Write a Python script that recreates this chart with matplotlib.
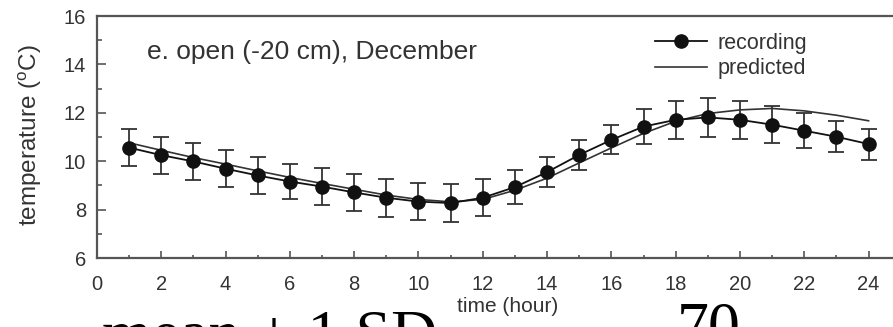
import numpy as np
import matplotlib
matplotlib.use("Agg")
from matplotlib import pyplot as plt
from matplotlib.lines import Line2D

plt.rcParams['font.family'] = ['Liberation Sans', 'DejaVu Sans']
plt.rcParams['mathtext.fontset'] = 'custom'
plt.rcParams['mathtext.rm'] = 'Liberation Sans'

# data
hours = [1, 2, 3, 4, 5, 6, 7, 8, 9, 10, 11, 12,
         13, 14, 15, 16, 17, 18, 19, 20, 21, 22, 23, 24]
recording = [10.56, 10.25, 9.99, 9.69, 9.41, 9.16, 8.95, 8.71, 8.49, 8.33, 8.27, 8.49,
             8.93, 9.55, 10.26, 10.88, 11.43, 11.71, 11.81, 11.71, 11.51, 11.26, 11.01, 10.71]
sd = [0.77, 0.77, 0.77, 0.76, 0.78, 0.73, 0.75, 0.76, 0.78, 0.78, 0.78, 0.77,
      0.69, 0.63, 0.61, 0.60, 0.72, 0.79, 0.79, 0.79, 0.76, 0.73, 0.65, 0.64]
predicted = [10.76, 10.45, 10.15, 9.88, 9.6, 9.33, 9.08, 8.84, 8.6, 8.42, 8.32, 8.42,
             8.8, 9.3, 9.93, 10.55, 11.15, 11.65, 11.97, 12.12, 12.18, 12.08, 11.9, 11.67]

fg = '#333333'

fig = plt.figure(figsize=(8.93, 3.27), dpi=100)
ax = fig.add_axes([97/893, 69/327, 796/893, 242/327])

ax.errorbar(hours, recording, yerr=sd, fmt='o-', color='#111111', ecolor='#333333',
            ms=9.5, lw=1.3, elinewidth=1.3, capsize=6, capthick=1.3)
ax.plot(hours, predicted, '-', color='#333333', lw=1.2)

ax.set_xlim(0, 24.76)
ax.set_ylim(6, 16)
ax.set_xticks(np.arange(0, 25, 2))
ax.set_xticks(np.arange(1, 25, 2), minor=True)
ax.set_yticks(np.arange(6, 17, 2))
ax.set_yticks(np.arange(7, 16, 2), minor=True)

for side in ['left', 'bottom', 'top']:
    ax.spines[side].set_color('#555555')
    ax.spines[side].set_linewidth(1.6)
ax.spines['right'].set_visible(False)

ax.tick_params(axis='x', which='major', direction='in', length=5, width=1.2,
               pad=12, labelsize=14.5, colors='#555555', labelcolor=fg)
ax.tick_params(axis='x', which='minor', direction='in', length=2.5, width=1.2, colors='#555555')
ax.tick_params(axis='y', which='major', direction='in', length=6.5, width=1.2,
               pad=8, labelsize=14.5, colors='#555555', labelcolor=fg)
ax.tick_params(axis='y', which='minor', direction='in', length=3.5, width=1.2, colors='#555555')

fig.text(147/893, 1 - 52/327, 'e. open (-20 cm), December', fontsize=19,
         color=fg, va='center', ha='left')

fig.text(30/893, 1 - 135/327, r'temperature ($^{\mathrm{o}}$C)', rotation=90,
         ha='center', va='center', fontsize=17.5, color=fg)
fig.text(508/893, 1 - 307/327, 'time (hour)', ha='center', va='center',
         fontsize=15, color=fg)

handles = [Line2D([], [], color='#111111', lw=1.3, marker='o', ms=9.5),
           Line2D([], [], color='#333333', lw=1.2)]
leg = ax.legend(handles, ['recording', 'predicted'], loc='upper left',
                bbox_to_anchor=(655/893, 1 - 33/327),
                bbox_transform=fig.transFigure, frameon=False, fontsize=15.5,
                handlelength=2.4, handletextpad=0.5, labelspacing=0.2,
                borderpad=0, borderaxespad=0)
for t in leg.get_texts():
    t.set_color(fg)

# page text cut off at the bottom of the crop
fig.text(102/893, (327 - 353)/327, 'mean \u00b1 1 SD', fontsize=46,
         family='Liberation Serif', va='baseline', ha='left', color='black')
fig.text(677/893, (327 - 346)/327, '70', fontsize=46,
         family='Liberation Serif', va='baseline', ha='left', color='black')

plt.savefig('out.png', dpi=100)
